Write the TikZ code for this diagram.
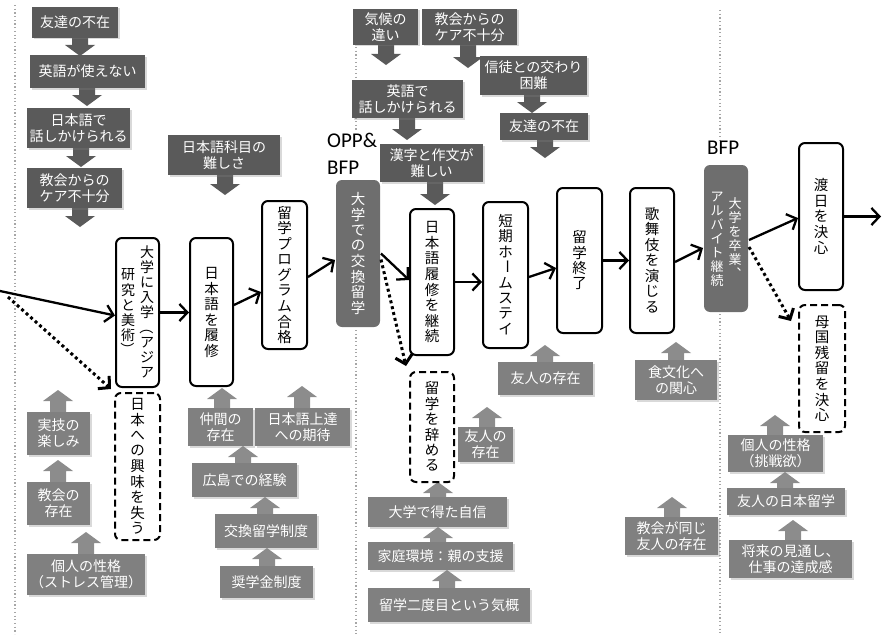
\documentclass[tikz,border=0pt]{standalone}
\usepackage{fontspec}
\newfontfamily\jp{Noto Sans CJK JP}
\newfontfamily\lat{Carlito}
\usetikzlibrary{arrows.meta,shadows,calc}
\definecolor{dk}{HTML}{5A5A5A}
\definecolor{lt}{HTML}{808080}
\definecolor{ltar}{HTML}{8C8C8C}
\definecolor{mid}{HTML}{6E6E6E}
\ExplSyntaxOn
\NewDocumentCommand\vcol{m}{\vbox{\offinterlineskip\tl_map_inline:nn{#1}{\hbox_to_wd:nn{1em}{\hss\vbox_to_ht:nn{1.07em}{\vss\hbox{##1}\vss}\hss}}}}
\ExplSyntaxOff
\newcommand\twocol[2]{\hbox{$\vcenter{\vcol{#1}}$\kern5pt$\vcenter{\vcol{#2}}$}}
\newcommand\vlong{\rotatebox[origin=c]{-90}{ー}}
\newcommand\vlp{\rotatebox[origin=c]{-90}{（}}
\newcommand\vrp{\rotatebox[origin=c]{-90}{）}}
\begin{document}
\begin{tikzpicture}[x=1pt,y=-1pt,
 cause/.style={fill=dk, text=white, font=\jp\fontsize{14}{16}\selectfont, align=center, inner sep=0pt,
   drop shadow={shadow xshift=1.5pt, shadow yshift=-1.5pt, opacity=0.3}},
 support/.style={cause, fill=lt},
 stage/.style={draw=black, line width=2pt, rounded corners=6pt, fill=white, inner sep=0pt, font=\jp\fontsize{14.5}{15}\selectfont},
 gstage/.style={stage, draw=none, fill=mid, text=white},
 altstage/.style={stage, dash pattern=on 7pt off 4pt},
 conn/.style={line width=2.3pt, -{Straight Barb[length=8pt,width=17pt]}},
 dconn/.style={conn, line width=3pt, dash pattern=on 3pt off 3pt},
 sepline/.style={gray!70, line width=1.2pt, dash pattern=on 1.2pt off 2.5pt},
 lab/.style={font=\lat\fontsize{21}{27}\selectfont, align=left, inner sep=0pt, anchor=north west}
]
\useasboundingbox (0,0) rectangle (882,634);
% separators
\draw[sepline] (15,5) -- (15,634);
\draw[sepline] (356,10) -- (356,132);
\draw[sepline] (356,330) -- (356,634);
\draw[sepline] (720,10) -- (720,140);
\draw[sepline] (720,314) -- (720,634);
% block arrows up (support)
\foreach \x/\t/\b in {58/390/414, 58/460/484, 86/532/556, 222/388/410, 302/386/410, 243/446/465, 265/497/516, 267/548/568, 487/407/429, 438/482/499, 438/527/544, 447/570/590, 545/345/364, 676/342/362, 672/497/519, 775/415/437, 785/472/490, 793/520/542}
  \fill[ltar] (\x-8,\b) -- (\x-8,\t+11) -- (\x-15,\t+11) -- (\x,\t) -- (\x+15,\t+11) -- (\x+8,\t+11) -- (\x+8,\b) -- cycle;
% block arrows down (causes)
\foreach \x/\b/\t in {80/36/56, 87/86/106, 81/146/167, 80/206/227, 225/173/195, 386/43/65, 468/43/68, 407/116/140, 532/93/113, 545/138/158, 435/180/205}
  \fill[dk] (\x-8,\b) -- (\x-8,\t-11) -- (\x-15,\t-11) -- (\x,\t) -- (\x+15,\t-11) -- (\x+8,\t-11) -- (\x+8,\b) -- cycle;
% top cause boxes
\node[cause, minimum width=86pt, minimum height=31pt] (a1) at (75,22.5) {友達の不在};
\node[cause, minimum width=115pt, minimum height=33pt] (a2) at (87.5,71.5) {英語が使えない};
\node[cause, minimum width=103pt, minimum height=40pt] (a3) at (78.5,128) {日本語で\\話しかけられる};
\node[cause, minimum width=95pt, minimum height=40pt] (a4) at (74.5,188) {教会からの\\ケア不十分};
\node[cause, minimum width=112pt, minimum height=40pt] (b1) at (224,155) {日本語科目の\\難しさ};
\node[cause, minimum width=65pt, minimum height=36pt] (c1) at (385.5,27) {気候の\\違い};
\node[cause, minimum width=95pt, minimum height=36pt] (c2) at (469.5,27) {教会からの\\ケア不十分};
\node[cause, minimum width=111pt, minimum height=38pt] (c3) at (407.5,99) {英語で\\話しかけられる};
\node[cause, minimum width=107pt, minimum height=39pt] (c4) at (533.5,75.5) {信徒との交わり\\困難};
\node[cause, minimum width=88pt, minimum height=27pt] (c5) at (544,126.5) {友達の不在};
\node[cause, minimum width=103pt, minimum height=38pt] (c6) at (431.5,163) {漢字と作文が\\難しい};
% bottom support boxes
\node[support, minimum width=63pt, minimum height=43pt] (d1) at (58.5,433.5) {実技の\\楽しみ};
\node[support, minimum width=63pt, minimum height=43pt] (d2) at (58.5,503.5) {教会の\\存在};
\node[support, minimum width=118pt, minimum height=41pt] (d3) at (86,574.5) {個人の性格\\（ストレス管理）};
\node[support, minimum width=65pt, minimum height=38pt] (e1) at (220.5,427) {仲間の\\存在};
\node[support, minimum width=95pt, minimum height=38pt] (e2) at (302.5,427) {日本語上達\\への期待};
\node[support, minimum width=105pt, minimum height=34pt] (e3) at (244.5,480) {広島での経験};
\node[support, minimum width=102pt, minimum height=34pt] (e4) at (266,531) {交換留学制度};
\node[support, minimum width=93pt, minimum height=32pt] (e5) at (266.5,582) {奨学金制度};
\node[support, minimum width=55pt, minimum height=35pt] (f1) at (485.5,444.5) {友人の\\存在};
\node[support, minimum width=139pt, minimum height=30pt] (f2) at (437.5,512) {大学で得た自信};
\node[support, minimum width=145pt, minimum height=28pt] (f3) at (440.5,556) {家庭環境：親の支援};
\node[support, minimum width=162pt, minimum height=34pt] (f4) at (449,605) {留学二度目という気概};
\node[support, minimum width=95pt, minimum height=33pt] (g1) at (545.5,378.5) {友人の存在};
\node[support, minimum width=82pt, minimum height=40pt] (g2) at (676,380) {食文化へ\\の関心};
\node[support, minimum width=93pt, minimum height=38pt] (g3) at (671.5,536) {教会が同じ\\友人の存在};
\node[support, minimum width=95pt, minimum height=37pt] (h1) at (775.5,453.5) {個人の性格\\（挑戦欲）};
\node[support, minimum width=118pt, minimum height=27pt] (h2) at (786,501.5) {友人の日本留学};
\node[support, minimum width=123pt, minimum height=38pt] (h3) at (790.5,559) {将来の見通し、\\仕事の達成感};
% main stages
\node[stage, minimum width=43pt, minimum height=149pt, font=\jp\fontsize{14}{15}\selectfont] (m1) at (137.5,312.5) {\twocol{研究と美術{\vrp}}{大学に入学{\vlp}アジア}};
\node[stage, minimum width=43pt, minimum height=148pt] (m2) at (211.5,312) {\vcol{日本語を履修}};
\node[stage, minimum width=45pt, minimum height=148pt] (m3) at (284.5,275) {\vcol{留学プログラム合格}};
\node[gstage, minimum width=44pt, minimum height=147pt] (m4) at (358,253.5) {\vcol{大学での交換留学}};
\node[stage, minimum width=44pt, minimum height=146pt] (m5) at (432,282) {\vcol{日本語履修を継続}};
\node[stage, minimum width=45pt, minimum height=146pt] (m6) at (505.5,275) {\vcol{短期ホ{\vlong}ムステイ}};
\node[stage, minimum width=45pt, minimum height=145pt] (m7) at (579.5,260.5) {\vcol{留学終了}};
\node[stage, minimum width=44pt, minimum height=145pt] (m8) at (652,260.5) {\vcol{歌舞伎を演じる}};
\node[gstage, minimum width=44pt, minimum height=147pt, font=\jp\fontsize{13}{14}\selectfont] (m9) at (726,238.5) {\twocol{アルバイト継続}{大学を卒業︑}};
\node[stage, minimum width=44pt, minimum height=147pt] (m10) at (821,216.5) {\vcol{渡日を決心}};
\node[altstage, minimum width=45pt, minimum height=147pt] (n1) at (137.5,466.5) {\vcol{日本への興味を失う}};
\node[altstage, minimum width=44pt, minimum height=110pt] (n2) at (432,427) {\vcol{留学を辞める}};
\node[altstage, minimum width=46pt, minimum height=127pt] (n3) at (822,368.5) {\vcol{母国残留を決心}};
% labels
\node[lab] (l1) at (327,133) {OPP\&\\BFP};
\node[lab] (l2) at (707,141) {BFP};
% connectors
\coordinate (s0) at (0,291);
\coordinate (s1) at (8,297);
\coordinate (e0) at (881,216.5);
\draw[conn] (s0) -- ([yshift=-3pt]m1.west);
\draw[dconn] (s1) -- ([shift={(-3pt,3pt)}]n1.north west);
\draw[conn] (m1.east) -- (m1.east -| m2.west);
\draw[conn] ([yshift=7pt]m2.east) -- ([yshift=-17pt]m3.west);
\draw[conn] ([yshift=-2pt]m3.east) -- ([yshift=-6.5pt]m4.west);
\draw[conn] (m4.east) -- ([yshift=2pt]m5.west);
\draw[dconn] ([yshift=-6pt]m4.east) -- ([shift={(-3pt,5pt)}]n2.north west);
\draw[conn] (m5.east) -- (m5.east -| m6.west);
\draw[conn] ([yshift=-2pt]m6.east) -- ([yshift=-7.5pt]m7.west);
\draw[conn] (m7.east) -- (m7.east -| m8.west);
\draw[conn] ([yshift=-1.5pt]m8.east) -- ([yshift=-9.5pt]m9.west);
\draw[conn] ([yshift=-1.5pt]m9.east) -- ([yshift=-1.5pt]m10.west);
\draw[dconn] ([yshift=-8.5pt]m9.east) -- ([shift={(-7pt,-17pt)}]n3.north west);
\draw[conn] (m10.east) -- (e0);
\end{tikzpicture}
\end{document}
